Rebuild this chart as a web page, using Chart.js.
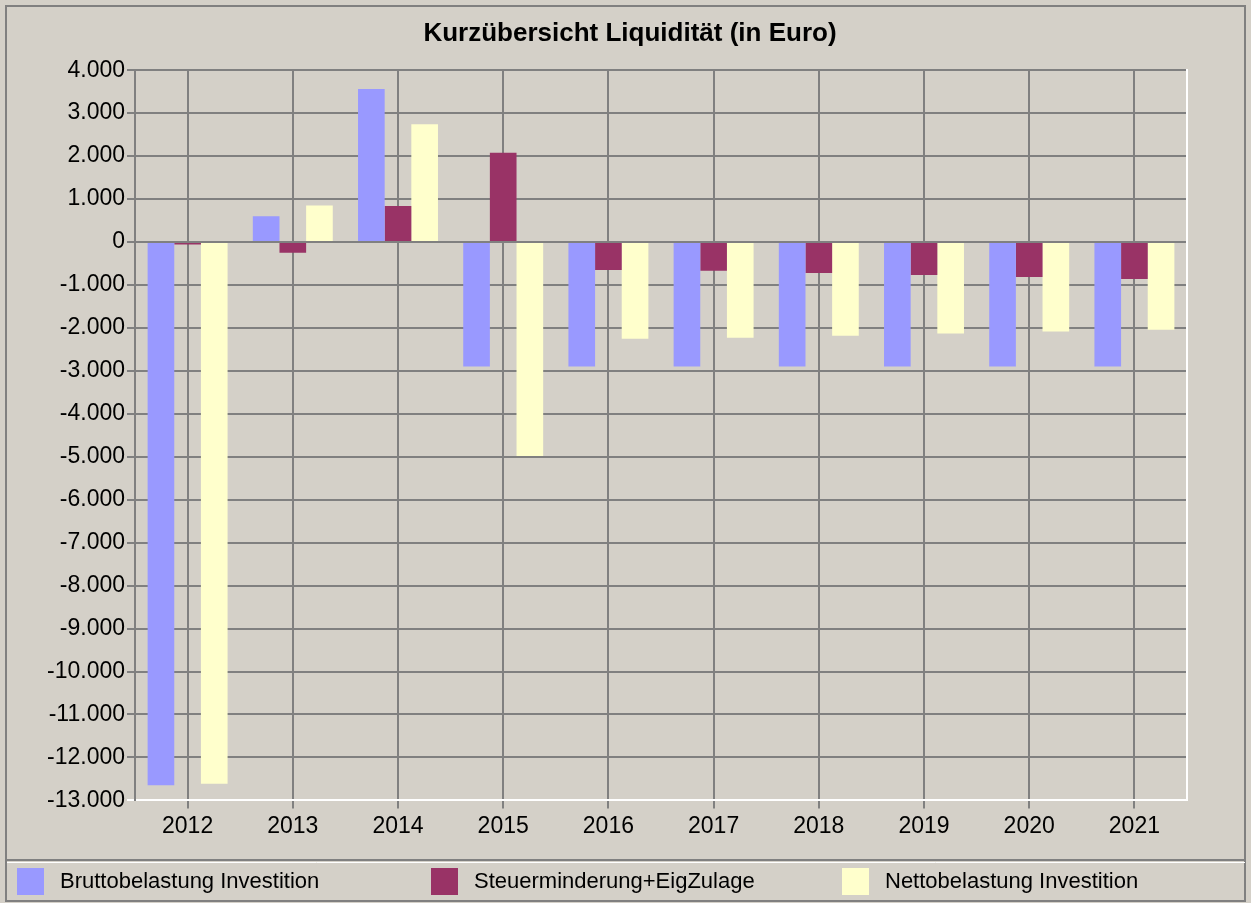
<!DOCTYPE html>
<html>
<head>
<meta charset="utf-8">
<style>
  html, body { margin: 0; padding: 0; background: #d4d0c8; }
  canvas { display: block; }
</style>
<script src="https://cdn.jsdelivr.net/npm/chart.js@4.4.1/dist/chart.umd.min.js"></script>
</head>
<body>
<canvas id="chart" width="1251" height="903"></canvas>
<script>
// data
const years = ['2012', '2013', '2014', '2015', '2016', '2017', '2018', '2019', '2020', '2021'];
const brutto = [-12650, 600, 3560, -2900, -2900, -2900, -2900, -2900, -2900, -2900];
const steuer = [-60, -250, 840, 2080, -650, -670, -720, -770, -815, -860];
const netto = [-12610, 850, 2740, -4980, -2250, -2230, -2180, -2130, -2085, -2040];
const seriesNames = ['Bruttobelastung Investition', 'Steuerminderung+EigZulage', 'Nettobelastung Investition'];
const yMin = -13000, yMax = 4000, yStep = 1000;

const FONT = "'Liberation Sans', Arial, sans-serif";

// 4000 -> "4.000"
function fmt(v) {
  const s = String(Math.abs(v)).replace(/\B(?=(\d{3})+(?!\d))/g, '.');
  return (v < 0 ? '-' : '') + s;
}

// grey panel, outer frame and legend separator
const frame = {
  id: 'frame',
  beforeDraw(chart) {
    const {ctx, width, height} = chart;
    ctx.save();
    ctx.fillStyle = '#d4d0c8';
    ctx.fillRect(0, 0, width, height);
    ctx.strokeStyle = '#808080';
    ctx.lineWidth = 2;
    ctx.strokeRect(6, 6, width - 12, height - 8);
    ctx.beginPath(); ctx.moveTo(7, 860); ctx.lineTo(width - 6, 860); ctx.stroke();
    ctx.strokeStyle = '#ffffff';
    ctx.lineWidth = 1;
    ctx.beginPath(); ctx.moveTo(7, 862.5); ctx.lineTo(width - 6, 862.5); ctx.stroke();
    ctx.restore();
  }
};

// legend row spread over the bottom strip
const legendRow = {
  id: 'legendRow',
  afterDraw(chart) {
    const {ctx} = chart;
    const xs = [17, 431, 842];
    ctx.save();
    ctx.font = '22px ' + FONT;
    ctx.textBaseline = 'middle';
    chart.data.datasets.forEach((ds, i) => {
      ctx.fillStyle = ds.backgroundColor;
      ctx.fillRect(xs[i], 868, 27, 27);
      ctx.fillStyle = '#000';
      ctx.fillText(ds.label, xs[i] + 43, 882);
    });
    ctx.restore();
  }
};

new Chart(document.getElementById('chart'), {
  type: 'bar',
  data: {
    labels: years,
    datasets: [
      {label: seriesNames[0], data: brutto, backgroundColor: '#9999ff'},
      {label: seriesNames[1], data: steuer, backgroundColor: '#993366'},
      {label: seriesNames[2], data: netto, backgroundColor: '#ffffcc'}
    ]
  },
  options: {
    responsive: false,
    animation: false,
    layout: {padding: {top: 6, left: 9, right: 0, bottom: 59}},
    datasets: {bar: {categoryPercentage: 0.76, barPercentage: 1, borderWidth: 0}},
    plugins: {
      legend: {display: false},
      tooltip: {enabled: false},
      title: {
        display: true,
        text: 'Kurzübersicht Liquidität (in Euro)',
        color: '#000',
        font: {family: FONT, size: 26, weight: 'bold'},
        padding: {top: 12, bottom: 21}
      }
    },
    scales: {
      x: {
        grid: {offset: false, color: '#808080', lineWidth: 2, tickLength: 8},
        border: {color: '#ffffff', width: 2},
        ticks: {color: '#000', font: {family: FONT, size: 23}, padding: 4, maxRotation: 0, autoSkip: false}
      },
      y: {
        min: yMin, max: yMax,
        ticks: {stepSize: yStep, color: '#000', font: {family: FONT, size: 23}, padding: 2, callback: fmt},
        grid: {color: c => (c.tick && c.tick.value === yMin) ? '#ffffff' : '#808080', lineWidth: 2, tickLength: 8},
        border: {color: '#808080', width: 2},
        afterFit: s => { s.width = 126; }
      },
      // empty right axis: only gives the white right edge of the plot
      yR: {
        position: 'right',
        grid: {display: false},
        ticks: {display: false},
        border: {color: '#ffffff', width: 2},
        afterFit: s => { s.width = 64; }
      }
    }
  },
  plugins: [frame, legendRow]
});
</script>
</body>
</html>
